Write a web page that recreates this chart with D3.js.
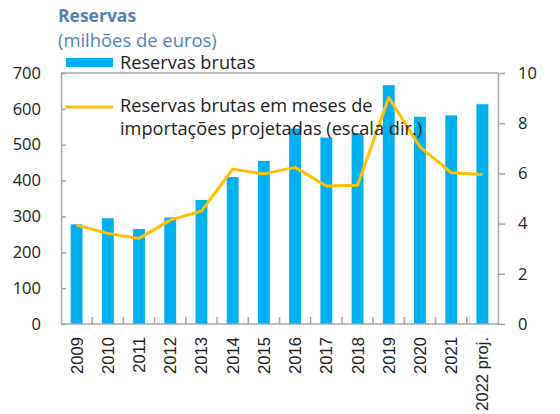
<!DOCTYPE html>
<html>
<head>
<meta charset="utf-8">
<script src="https://cdn.jsdelivr.net/npm/d3@7"></script>
<style>
  body { margin: 0; background: #fff; }
  svg { display: block; }
</style>
</head>
<body>
<div id="chart"></div>
<script>
// data
let years = ["2009", "2010", "2011", "2012", "2013", "2014", "2015", "2016", "2017", "2018", "2019", "2020", "2021", "2022 proj."];
let reserves = [278, 295, 265, 297, 346, 410, 455, 545, 520, 532, 666, 578, 582, 613];
let monthsImports = [3.94, 3.61, 3.41, 4.14, 4.5, 6.17, 5.98, 6.24, 5.5, 5.53, 9.02, 7.06, 6.03, 5.96];
let leftTicks = [0, 100, 200, 300, 400, 500, 600, 700];
let rightTicks = [0, 2, 4, 6, 8, 10];

let width = 560, height = 414;
let margin = { top: 73, right: 62, bottom: 90, left: 61 };

let svg = d3.select("#chart").append("svg")
  .attr("width", width)
  .attr("height", height);

let x = d3.scaleBand()
  .domain(years)
  .range([margin.left, width - margin.right])
  .paddingInner(0.62)
  .paddingOuter(0.31);

let y = d3.scaleLinear().domain([0, 700]).range([height - margin.bottom, margin.top]);
let y2 = d3.scaleLinear().domain([0, 10]).range([height - margin.bottom, margin.top]);

let axisColor = "#a6a6a6";
let font = "'Open Sans', 'Noto Sans', sans-serif";

// bars
svg.append("g").selectAll("rect")
  .data(reserves)
  .enter().append("rect")
  .attr("x", (d, i) => x(years[i]))
  .attr("y", d => y(d))
  .attr("width", x.bandwidth())
  .attr("height", d => y(0) - y(d))
  .attr("fill", "#00b0f0");

// line on right scale
let line = d3.line()
  .x((d, i) => x(years[i]) + x.bandwidth() / 2)
  .y(d => y2(d));

svg.append("path")
  .datum(monthsImports)
  .attr("d", line)
  .attr("fill", "none")
  .attr("stroke", "#ffc000")
  .attr("stroke-width", 3)
  .attr("stroke-linejoin", "round");

// frame top
svg.append("line")
  .attr("x1", margin.left).attr("x2", width - margin.right)
  .attr("y1", margin.top).attr("y2", margin.top)
  .attr("stroke", axisColor).attr("stroke-width", 1.5);

// left axis, ticks inward
let leftAxis = svg.append("g")
  .attr("transform", "translate(" + margin.left + ",0)")
  .call(d3.axisLeft(y).tickValues(leftTicks).tickSize(-5).tickPadding(20).tickSizeOuter(0));

// right axis, ticks outward
let rightAxis = svg.append("g")
  .attr("transform", "translate(" + (width - margin.right) + ",0)")
  .call(d3.axisRight(y2).tickValues(rightTicks).tickSize(7).tickPadding(13).tickSizeOuter(0));

// bottom axis with ticks between bars
let step = x.step();
let bottom = svg.append("g")
  .attr("transform", "translate(0," + y(0) + ")");
bottom.append("line")
  .attr("x1", margin.left).attr("x2", width - margin.right)
  .attr("stroke", axisColor).attr("stroke-width", 1.5);
bottom.selectAll(".sep")
  .data(years.slice(1))
  .enter().append("line")
  .attr("x1", d => x(d) - (step - x.bandwidth()) / 2)
  .attr("x2", d => x(d) - (step - x.bandwidth()) / 2)
  .attr("y1", 0).attr("y2", -7)
  .attr("stroke", axisColor).attr("stroke-width", 1.5);
bottom.selectAll(".lab")
  .data(years)
  .enter().append("text")
  .attr("transform", d => "translate(" + (x(d) + x.bandwidth() / 2 + 6) + ",13) rotate(-90)")
  .attr("text-anchor", "end")
  .attr("font-family", "'Liberation Sans', Arial, sans-serif")
  .attr("font-size", 16.6)
  .attr("fill", "#222")
  .text(d => d);

[leftAxis, rightAxis].forEach(a => {
  a.select(".domain").attr("stroke", axisColor).attr("stroke-width", 1.5);
  a.selectAll(".tick line").attr("stroke", axisColor).attr("stroke-width", 1.5);
  a.selectAll(".tick text")
    .attr("font-family", font)
    .attr("font-size", 16.5)
    .attr("fill", "#222");
});

// title
svg.append("text")
  .attr("x", 58).attr("y", 22)
  .attr("font-family", font)
  .attr("font-size", 17.5)
  .attr("font-weight", "bold")
  .attr("fill", "#4f81bd")
  .text("Reservas");
svg.append("text")
  .attr("x", 58).attr("y", 47)
  .attr("font-family", font)
  .attr("font-size", 18.4)
  .attr("fill", "#4f81bd")
  .text("(milhões de euros)");

// legend
let legend = svg.append("g");
legend.append("rect")
  .attr("x", 66).attr("y", 58)
  .attr("width", 47).attr("height", 9)
  .attr("fill", "#00b0f0");
legend.append("text")
  .attr("x", 120).attr("y", 69)
  .attr("font-family", font).attr("font-size", 18.2).attr("fill", "#222")
  .text("Reservas brutas");
legend.append("line")
  .attr("x1", 66).attr("x2", 113)
  .attr("y1", 107).attr("y2", 107)
  .attr("stroke", "#ffc000").attr("stroke-width", 3);
legend.append("text")
  .attr("x", 120).attr("y", 112)
  .attr("font-family", font).attr("font-size", 18.2).attr("fill", "#222")
  .text("Reservas brutas em meses de");
legend.append("text")
  .attr("x", 120).attr("y", 135)
  .attr("font-family", font).attr("font-size", 18.2).attr("fill", "#222")
  .text("importações projetadas (escala dir.)");
</script>
</body>
</html>
